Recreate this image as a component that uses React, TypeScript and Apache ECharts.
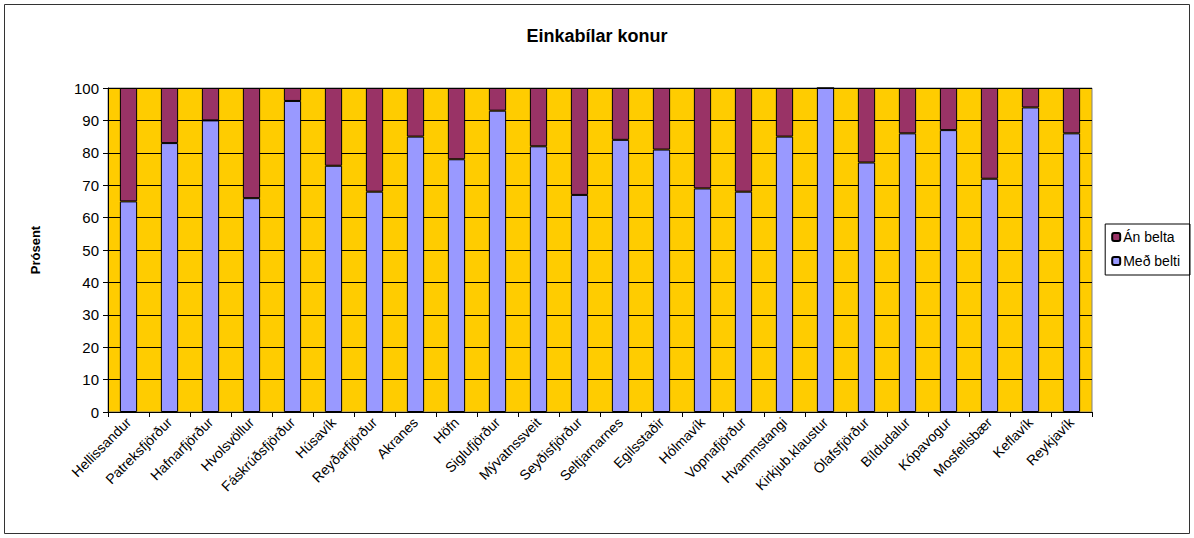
import React, { useEffect, useRef } from "react";
import * as echarts from "echarts";

const categories = [
  "Hellissandur", "Patreksfjörður", "Hafnarfjörður", "Hvolsvöllur", "Fáskrúðsfjörður",
  "Húsavík", "Reyðarfjörður", "Akranes", "Höfn", "Siglufjörður", "Mývatnssveit",
  "Seyðisfjörður", "Seltjarnarnes", "Egilsstaðir", "Hólmavík", "Vopnafjörður",
  "Hvammstangi", "Kirkjub.klaustur", "Ólafsfjörður", "Bíldudalur", "Kópavogur",
  "Mosfellsbær", "Keflavík", "Reykjavík",
];

const medBelti = [65, 83, 90, 66, 96, 76, 68, 85, 78, 93, 82, 67, 84, 81, 69, 68, 85, 100, 77, 86, 87, 72, 94, 86];
const anBelta = [35, 17, 10, 34, 4, 24, 32, 15, 22, 7, 18, 33, 16, 19, 31, 32, 15, 0, 23, 14, 13, 28, 6, 14];

const yTicks = { min: 0, max: 100, interval: 10 };

export default function App() {
  const ref = useRef<HTMLDivElement>(null);
  useEffect(() => {
    document.body.style.margin = "0";
    const chart = echarts.init(ref.current!, null, { renderer: "svg" });
    const font = "Arial, 'Liberation Sans', sans-serif";
    chart.setOption({
      animation: false,
      backgroundColor: "#ffffff",
      textStyle: { fontFamily: font },
      graphic: [
        {
          type: "rect",
          shape: { x: 4.5, y: 4.5, width: 1185, height: 529 },
          style: { fill: "none", stroke: "#333", lineWidth: 1 },
          silent: true,
        },
      ],
      title: {
        text: "Einkabílar konur",
        left: "center",
        top: 22,
        textStyle: { fontSize: 18, fontWeight: "bold", color: "#000", fontFamily: font },
      },
      legend: {
        orient: "vertical",
        right: 4,
        top: 224,
        data: ["Án belta", "Með belti"],
        itemWidth: 8,
        itemHeight: 8,
        itemGap: 10,
        padding: [6, 10, 7, 6],
        borderColor: "#000",
        borderWidth: 1,
        textStyle: { fontSize: 14, color: "#000", fontFamily: font, padding: [0, 0, 0, -2] },
      },
      grid: {
        left: 108,
        right: 102,
        top: 88,
        bottom: 126,
        show: true,
        backgroundColor: "#FFCC00",
        borderColor: "#808080",
        borderWidth: 1,
      },
      xAxis: {
        type: "category",
        data: categories,
        axisLine: { show: true, lineStyle: { color: "#000" } },
        axisTick: { show: true, alignWithLabel: false, length: 5, lineStyle: { color: "#000" } },
        axisLabel: { rotate: 45, interval: 0, fontSize: 14, color: "#000", fontFamily: font, margin: 8 },
        splitLine: { show: false },
      },
      yAxis: {
        type: "value",
        min: yTicks.min,
        max: yTicks.max,
        interval: yTicks.interval,
        name: "Prósent",
        nameLocation: "middle",
        nameGap: 66,
        nameTextStyle: { fontSize: 13, fontWeight: "bold", color: "#000", fontFamily: font },
        axisLine: { show: true, lineStyle: { color: "#000" } },
        axisTick: { show: true, length: 5, lineStyle: { color: "#000" } },
        axisLabel: { fontSize: 15, color: "#000", fontFamily: font, margin: 9 },
        splitLine: { show: true, lineStyle: { color: "#000", width: 1 } },
      },
      series: [
        {
          name: "Með belti",
          type: "bar",
          stack: "total",
          data: medBelti,
          barWidth: "42%",
          itemStyle: { color: "#9999FF", borderColor: "#000", borderWidth: 1 },
        },
        {
          name: "Án belta",
          type: "bar",
          stack: "total",
          data: anBelta,
          barWidth: "42%",
          itemStyle: { color: "#993366", borderColor: "#000", borderWidth: 1 },
        },
      ],
    });
    return () => chart.dispose();
  }, []);
  return <div ref={ref} style={{ width: 1194, height: 538 }} />;
}
